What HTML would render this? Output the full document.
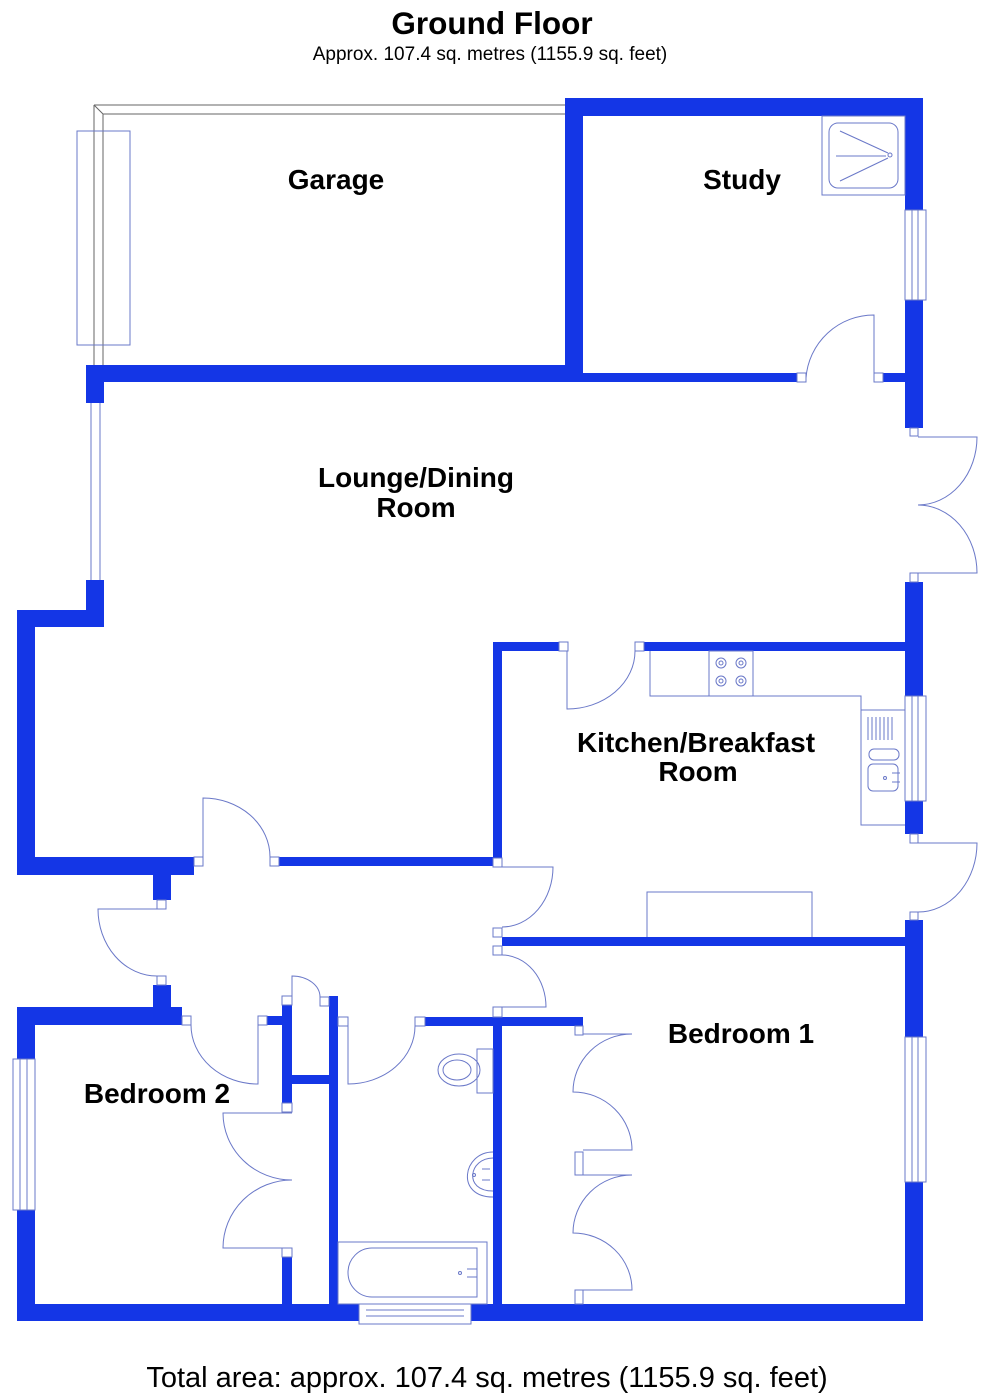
<!DOCTYPE html>
<html><head><meta charset="utf-8"><style>
html,body{margin:0;padding:0;background:#fff;}
svg{display:block;}
text{font-family:"Liberation Sans",Arial,sans-serif;fill:#000;}
.w{fill:#1436e6;}
.l{fill:none;stroke:#6a78c8;stroke-width:1;}
.j{fill:#fff;stroke:#6a78c8;stroke-width:1;}
.g{fill:none;stroke:#666;stroke-width:1;}
</style></head><body>
<svg width="993" height="1396" viewBox="0 0 993 1396" xmlns="http://www.w3.org/2000/svg">
<text x="492" y="34" font-size="31.5" font-weight="bold" text-anchor="middle">Ground Floor</text>
<text x="490" y="60" font-size="19" text-anchor="middle">Approx. 107.4 sq. metres (1155.9 sq. feet)</text>
<text x="487" y="1387" font-size="29" text-anchor="middle">Total area: approx. 107.4 sq. metres (1155.9 sq. feet)</text>

<path class="g" d="M94 105 L565 105 M103 114 L565 114 M94 105 L94 365 M103 114 L103 365 M94 105 L103 114"/>
<rect class="l" x="77" y="131" width="53" height="214"/>

<g class="w">
<rect x="565" y="98" width="358" height="18"/>
<rect x="565" y="98" width="18" height="284"/>
<rect x="905" y="98" width="18" height="112"/>
<rect x="905" y="300" width="18" height="128"/>
<rect x="86" y="365" width="497" height="17"/>
<rect x="86" y="365" width="18" height="38"/>
<rect x="583" y="373" width="214" height="9"/>
<rect x="883" y="373" width="22" height="9"/>
<rect x="86" y="580" width="18" height="47"/>
<rect x="17" y="610" width="87" height="17"/>
<rect x="17" y="610" width="18" height="265"/>
<rect x="17" y="857" width="177" height="18"/>
<rect x="153" y="857" width="18" height="43"/>
<rect x="279" y="857" width="214" height="9"/>
<rect x="905" y="582" width="18" height="114"/>
<rect x="905" y="801" width="18" height="33"/>
<rect x="905" y="920" width="18" height="117"/>
<rect x="905" y="1182" width="18" height="139"/>
<rect x="493" y="642" width="66" height="9"/>
<rect x="644" y="642" width="279" height="9"/>
<rect x="493" y="642" width="9" height="216"/>
<rect x="502" y="937" width="421" height="9"/>
<rect x="425" y="1017" width="158" height="9"/>
<rect x="493" y="1017" width="9" height="304"/>
<rect x="153" y="985" width="18" height="31"/>
<rect x="17" y="1007" width="165" height="18"/>
<rect x="17" y="1007" width="18" height="52"/>
<rect x="17" y="1210" width="18" height="111"/>
<rect x="267" y="1016" width="25" height="9"/>
<rect x="282" y="1005" width="10" height="98"/>
<rect x="282" y="1257" width="10" height="64"/>
<rect x="292" y="1075" width="37" height="9"/>
<rect x="329" y="996" width="9" height="325"/>
<rect x="17" y="1304" width="342" height="17"/>
<rect x="471" y="1304" width="452" height="17"/>
<rect x="575" y="1163" width="8" height="4"/>
<rect x="575" y="1300" width="8" height="4"/>
</g>

<g class="j">
<rect x="797" y="373" width="9" height="9"/><rect x="874" y="373" width="9" height="9"/>
<rect x="910" y="428" width="8" height="8"/><rect x="910" y="573" width="8" height="9"/>
<rect x="559" y="642" width="9" height="9"/><rect x="635" y="642" width="9" height="9"/>
<rect x="910" y="834" width="8" height="9"/><rect x="910" y="912" width="8" height="8"/>
<rect x="493" y="858" width="9" height="9"/>
<rect x="493" y="928" width="9" height="9"/><rect x="493" y="946" width="9" height="9"/>
<rect x="493" y="1007" width="9" height="10"/>
<rect x="194" y="857" width="9" height="9"/><rect x="270" y="857" width="9" height="9"/>
<rect x="157" y="900" width="9" height="9"/><rect x="157" y="976" width="9" height="9"/>
<rect x="182" y="1016" width="9" height="9"/><rect x="258" y="1016" width="9" height="9"/>
<rect x="282" y="996" width="10" height="9"/><rect x="320" y="997" width="9" height="9"/>
<rect x="282" y="1103" width="10" height="9"/><rect x="282" y="1248" width="10" height="9"/>
<rect x="338" y="1017" width="10" height="9"/><rect x="415" y="1017" width="10" height="9"/>
<rect x="575" y="1026" width="8" height="9"/>
<rect x="575" y="1152" width="8" height="23"/>
<rect x="575" y="1290" width="8" height="14"/>
</g>

<g class="l">
<rect x="905" y="210" width="21" height="90"/><path d="M912 210 V300 M918 210 V300"/>
<rect x="905" y="696" width="21" height="105"/><path d="M912 696 V801 M918 696 V801"/>
<rect x="905" y="1037" width="21" height="145"/><path d="M912 1037 V1182 M918 1037 V1182"/>
<rect x="13" y="1059" width="22" height="151"/><path d="M20 1059 V1210 M27 1059 V1210"/>
<rect x="359" y="1304" width="112" height="20"/><path d="M366 1310 H464 M366 1316 H464"/>
<path d="M91 403 V580 M100 403 V580"/>
</g>

<g class="l">
<path d="M806 378 A68 68 0 0 1 874 315 V373"/>
<path d="M918 437 H977 A59 68 0 0 1 918 505 A59 68 0 0 1 977 573 H918"/>
<path d="M567 651 V709 A68 58 0 0 0 635 651"/>
<path d="M918 843 H977 A59 69 0 0 1 918 912"/>
<path d="M502 867 H553 A51 60 0 0 1 502 927"/>
<path d="M502 955 A44 52 0 0 1 546 1007 H502"/>
<path d="M203 857 V798 A67 59 0 0 1 270 857"/>
<path d="M157 909 H98 A59 67 0 0 0 157 976"/>
<path d="M191 1025 A67 59 0 0 0 258 1084 V1025"/>
<path d="M292 1005 V976 A28 21 0 0 1 320 997"/>
<path d="M292 1113 H223 A69 67 0 0 0 292 1180 A69 68 0 0 0 223 1248 H292"/>
<path d="M348 1026 V1084 A67 58 0 0 0 415 1026"/>
<path d="M583 1034 H632 A59 58 0 0 0 573 1092 A59 58 0 0 1 632 1150 H583"/>
<path d="M583 1175 H632 A59 58 0 0 0 573 1233 A59 57 0 0 1 632 1290 H583"/>
</g>

<g class="l">
<rect x="822" y="116" width="83" height="79"/>
<rect x="829" y="123" width="69" height="65" rx="9"/>
<path d="M840 131 L888 153 M836 156 H886 M840 181 L888 158"/>
<circle cx="890" cy="155" r="2"/>
<path d="M650 651 V696 H861 V825 H905 M861 710 H905"/>
<rect x="709" y="651" width="44" height="45"/>
<circle cx="721" cy="663" r="5"/><circle cx="721" cy="663" r="2"/>
<circle cx="741" cy="663" r="5"/><circle cx="741" cy="663" r="2"/>
<circle cx="721" cy="681" r="5"/><circle cx="721" cy="681" r="2"/>
<circle cx="741" cy="681" r="5"/><circle cx="741" cy="681" r="2"/>
<path d="M868 717 V740 M872 717 V740 M876 717 V740 M880 717 V740 M884 717 V740 M888 717 V740 M892 717 V740"/>
<rect x="869" y="749" width="30" height="11" rx="5"/>
<rect x="868" y="764" width="30" height="27" rx="5"/>
<circle cx="885" cy="778" r="1.5"/>
<path d="M892 773 H900 M892 782 H900"/>
<path d="M647 937 V892 H812 V937"/>
<ellipse cx="459" cy="1070" rx="21" ry="16"/><ellipse cx="457" cy="1070" rx="14" ry="10"/>
<rect x="477" y="1049" width="16" height="44"/>
<path d="M493 1152 C463 1152 455 1197 493 1197"/><path d="M493 1158 C469 1158 463 1191 493 1191"/>
<circle cx="474" cy="1175" r="1.5"/><path d="M482 1169 H490 M482 1180 H490"/>
<rect x="338" y="1242" width="149" height="62"/>
<path d="M372 1248 H477 V1297 H372 A24 24.5 0 0 1 372 1248 Z"/>
<circle cx="460" cy="1273" r="1.5"/><path d="M467 1269 H477 M467 1277 H477"/>
</g>

<g font-weight="bold" font-size="28" text-anchor="middle">
<text x="336" y="189">Garage</text>
<text x="742" y="189">Study</text>
<text x="416" y="487">Lounge/Dining</text>
<text x="416" y="517">Room</text>
<text x="696" y="752">Kitchen/Breakfast</text>
<text x="698" y="781">Room</text>
<text x="741" y="1043">Bedroom 1</text>
<text x="157" y="1103">Bedroom 2</text>
</g>
</svg>
</body></html>
